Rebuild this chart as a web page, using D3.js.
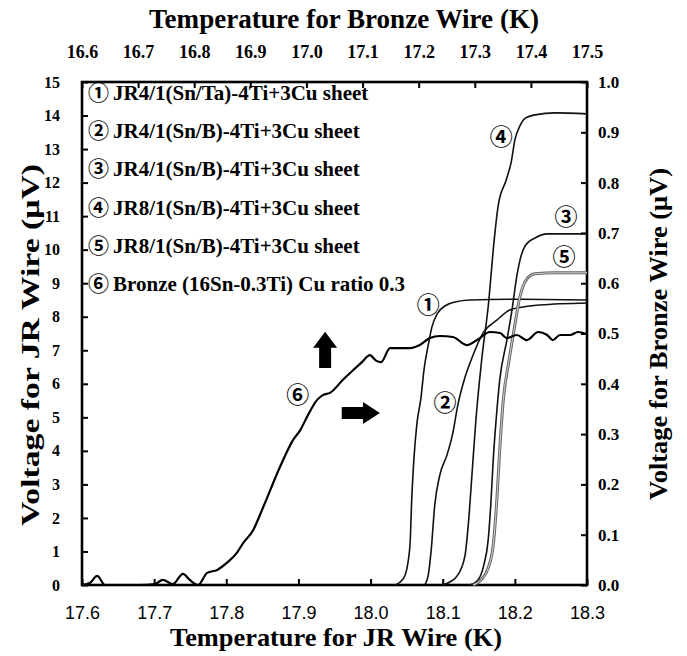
<!DOCTYPE html>
<html>
<head>
<meta charset="utf-8">
<script src="https://cdn.jsdelivr.net/npm/d3@7"></script>
<style>
  body { margin: 0; background: #fff; }
  svg { display: block; }
</style>
</head>
<body>
<div id="chart"></div>
<script>
// tick values
var bottomTicks = [17.6, 17.7, 17.8, 17.9, 18.0, 18.1, 18.2, 18.3];
var topTicks = [16.6, 16.7, 16.8, 16.9, 17.0, 17.1, 17.2, 17.3, 17.4, 17.5];
var leftTicks = [0, 1, 2, 3, 4, 5, 6, 7, 8, 9, 10, 11, 12, 13, 14, 15];
var rightTicks = [0.0, 0.1, 0.2, 0.3, 0.4, 0.5, 0.6, 0.7, 0.8, 0.9, 1.0];

var legendLabels = [
    "JR4/1(Sn/Ta)-4Ti+3Cu sheet",
    "JR4/1(Sn/B)-4Ti+3Cu sheet",
    "JR4/1(Sn/B)-4Ti+3Cu sheet",
    "JR8/1(Sn/B)-4Ti+3Cu sheet",
    "JR8/1(Sn/B)-4Ti+3Cu sheet",
    "Bronze (16Sn-0.3Ti) Cu ratio 0.3"
];
var circled = ["\u2460", "\u2461", "\u2462", "\u2463", "\u2464", "\u2465"];

// JR wire curves: [temperature (K), voltage (uV)]
var curve1 = [[18.034, 0], [18.041, 0.09], [18.048, 0.30], [18.052, 0.69], [18.055, 1.34],
    [18.057, 2.53], [18.060, 3.73], [18.064, 4.77], [18.070, 5.61], [18.074, 6.41],
    [18.080, 7.16], [18.085, 7.69], [18.093, 8.11], [18.103, 8.32], [18.117, 8.44],
    [18.138, 8.50], [18.200, 8.52], [18.300, 8.50]];
var curve2 = [[18.075, 0], [18.080, 0.30], [18.084, 1.04], [18.089, 2.39], [18.096, 3.28],
    [18.106, 3.88], [18.114, 4.53], [18.121, 5.37], [18.131, 6.20], [18.141, 6.80],
    [18.156, 7.52], [18.175, 7.90], [18.193, 8.20], [18.211, 8.29], [18.235, 8.35],
    [18.300, 8.41]];
var curve3 = [[18.138, 0], [18.149, 0.15], [18.157, 0.60], [18.163, 1.34], [18.167, 2.53],
    [18.170, 3.73], [18.174, 4.92], [18.179, 6.11], [18.189, 7.31], [18.196, 8.20],
    [18.203, 9.25], [18.209, 9.84], [18.215, 10.14], [18.228, 10.35], [18.245, 10.47],
    [18.300, 10.47]];
var curve4 = [[18.099, 0], [18.110, 0.09], [18.121, 0.30], [18.131, 0.89], [18.136, 1.94],
    [18.141, 3.43], [18.146, 4.92], [18.154, 6.71], [18.164, 8.50], [18.170, 9.99],
    [18.177, 11.33], [18.188, 12.08], [18.195, 12.62], [18.200, 13.27], [18.207, 13.69],
    [18.215, 13.93], [18.228, 14.02], [18.256, 14.08], [18.300, 14.05]];
var curve5 = [[18.142, 0], [18.153, 0.15], [18.163, 0.51], [18.170, 1.19], [18.175, 2.53],
    [18.179, 4.03], [18.184, 5.52], [18.192, 6.71], [18.200, 7.75], [18.206, 8.50],
    [18.211, 8.89], [18.218, 9.16], [18.228, 9.28], [18.256, 9.31], [18.300, 9.31]];

// Bronze wire curve: [temperature (K, top axis), voltage (uV, right axis)]
var curve6 = [[16.600, 0], [16.614, 0.004], [16.627, 0.018], [16.641, 0], [16.703, 0],
    [16.730, 0.002], [16.744, 0.010], [16.762, 0.002], [16.780, 0.022], [16.792, 0.010],
    [16.807, 0], [16.823, 0.024], [16.841, 0.030], [16.858, 0.044], [16.876, 0.064],
    [16.887, 0.083], [16.905, 0.109], [16.923, 0.155], [16.953, 0.235], [16.976, 0.288],
    [16.989, 0.308], [17.001, 0.334], [17.019, 0.368], [17.030, 0.378], [17.042, 0.382],
    [17.065, 0.408], [17.083, 0.427], [17.099, 0.443], [17.113, 0.457], [17.124, 0.446],
    [17.133, 0.443], [17.149, 0.471], [17.167, 0.471], [17.185, 0.471], [17.202, 0.477],
    [17.220, 0.491], [17.238, 0.495], [17.261, 0.493], [17.286, 0.477], [17.304, 0.487],
    [17.327, 0.503], [17.345, 0.501], [17.357, 0.491], [17.375, 0.497], [17.393, 0.487],
    [17.413, 0.503], [17.429, 0.497], [17.439, 0.487], [17.452, 0.497], [17.470, 0.497],
    [17.484, 0.503], [17.500, 0.499]];

var width = 687, height = 656;
var margin = { top: 82, left: 82, right: 100, bottom: 71 };
var plotW = width - margin.left - margin.right,
    plotH = height - margin.top - margin.bottom;

var serif = "'Liberation Serif', 'Times New Roman', serif";
var sans = "'Liberation Sans', Arial, sans-serif";
var circleFont = "'Noto Sans CJK JP', 'DejaVu Sans', sans-serif";

var svg = d3.select("#chart")
    .append("svg")
    .attr("width", width)
    .attr("height", height)
    .style("background", "#fff");

var g = svg.append("g")
    .attr("transform", "translate(" + margin.left + "," + margin.top + ")");

var xBot = d3.scaleLinear().domain([17.6, 18.3]).range([0, plotW]);
var xTop = d3.scaleLinear().domain([16.6, 17.5]).range([0, plotW]);
var yLeft = d3.scaleLinear().domain([0, 15]).range([plotH, 0]);
var yRight = d3.scaleLinear().domain([0, 1]).range([plotH, 0]);

// axes with inward ticks
var fmt1 = d3.format(".1f");

var axB = g.append("g")
    .attr("transform", "translate(0," + plotH + ")")
    .call(d3.axisBottom(xBot).tickValues(bottomTicks).tickFormat(fmt1).tickSizeInner(-6).tickSizeOuter(0));
axB.selectAll("text").attr("y", 34).attr("dy", null)
    .style("font-family", sans).style("font-size", "18px");

var axT = g.append("g")
    .call(d3.axisTop(xTop).tickValues(topTicks).tickFormat(fmt1).tickSizeInner(-6).tickSizeOuter(0));
axT.selectAll("text").attr("y", -24).attr("dy", null)
    .style("font-family", serif).style("font-weight", "bold").style("font-size", "18px");

var axL = g.append("g")
    .call(d3.axisLeft(yLeft).tickValues(leftTicks).tickSizeInner(-6).tickSizeOuter(0));
axL.selectAll("text").attr("x", -22)
    .style("font-family", serif).style("font-weight", "bold").style("font-size", "16px");

var axR = g.append("g")
    .attr("transform", "translate(" + plotW + ",0)")
    .call(d3.axisRight(yRight).tickValues(rightTicks).tickFormat(fmt1).tickSizeInner(-6).tickSizeOuter(0));
axR.selectAll("text").attr("x", 11)
    .style("font-family", serif).style("font-weight", "bold").style("font-size", "17px");

g.selectAll(".domain").remove();
g.selectAll(".tick line").attr("stroke", "#000").attr("stroke-width", 2);
g.selectAll(".tick text").attr("fill", "#000");

// frame
g.append("rect")
    .attr("width", plotW)
    .attr("height", plotH)
    .attr("fill", "none")
    .attr("stroke", "#000")
    .attr("stroke-width", 2.6);

// curves
var lineBot = d3.line()
    .x(function (d) { return xBot(d[0]); })
    .y(function (d) { return yLeft(d[1]); })
    .curve(d3.curveMonotoneX);
var lineTop = d3.line()
    .x(function (d) { return xTop(d[0]); })
    .y(function (d) { return yRight(d[1]); })
    .curve(d3.curveMonotoneX);

var jrCurves = [curve1, curve2, curve3, curve4];
g.selectAll(".jr")
    .data(jrCurves)
    .join("path")
    .attr("class", "jr")
    .attr("d", lineBot)
    .attr("fill", "none")
    .attr("stroke", "#111")
    .attr("stroke-width", 1.6);

// curve 5 drawn as a grey double line
g.append("path").attr("d", lineBot(curve5))
    .attr("fill", "none").attr("stroke", "#666").attr("stroke-width", 3);
g.append("path").attr("d", lineBot(curve5))
    .attr("fill", "none").attr("stroke", "#ddd").attr("stroke-width", 0.9);

g.append("path").attr("d", lineTop(curve6))
    .attr("fill", "none").attr("stroke", "#000").attr("stroke-width", 2.2);

// curve labels
var curveLabels = [
    { i: 0, x: 18.080, y: 8.35 },
    { i: 1, x: 18.103, y: 5.43 },
    { i: 2, x: 18.271, y: 10.98 },
    { i: 3, x: 18.181, y: 13.36 },
    { i: 4, x: 18.268, y: 9.79 },
    { i: 5, x: 17.899, y: 5.67 }
];
g.selectAll(".clab")
    .data(curveLabels)
    .join("text")
    .attr("class", "clab")
    .attr("x", function (d) { return xBot(d.x); })
    .attr("y", function (d) { return yLeft(d.y); })
    .attr("dy", "0.36em")
    .attr("text-anchor", "middle")
    .style("font-family", circleFont)
    .style("font-weight", "bold")
    .style("font-size", "23px")
    .text(function (d) { return circled[d.i]; });

// arrows pointing to the bronze axes
var ux = xBot(17.937), uy0 = yLeft(6.47), uy1 = yLeft(7.55);
g.append("path")
    .attr("d", "M" + (ux - 6) + "," + uy0 + "V" + (uy1 + 16) + "H" + (ux - 12) +
        "L" + ux + "," + uy1 + "L" + (ux + 12) + "," + (uy1 + 16) + "H" + (ux + 6) + "V" + uy0 + "Z")
    .attr("fill", "#000");
var ry = yLeft(5.13), rx0 = xBot(17.960), rx1 = xBot(18.013);
g.append("path")
    .attr("d", "M" + rx0 + "," + (ry - 6) + "H" + (rx1 - 17) + "V" + (ry - 11) +
        "L" + rx1 + "," + ry + "L" + (rx1 - 17) + "," + (ry + 11) + "V" + (ry + 6) + "H" + rx0 + "Z")
    .attr("fill", "#000");

// legend text
var leg = g.selectAll(".leg")
    .data(legendLabels)
    .join("text")
    .attr("class", "leg")
    .attr("x", 6)
    .attr("y", function (d, i) { return 18 + i * 38.2; });
leg.append("tspan")
    .style("font-family", circleFont)
    .style("font-weight", "bold")
    .style("font-size", "21px")
    .text(function (d, i) { return circled[i]; });
leg.append("tspan")
    .attr("dx", 4)
    .style("font-family", serif)
    .style("font-weight", "bold")
    .style("font-size", "21px")
    .text(function (d) { return d; });

// axis titles
svg.append("text")
    .attr("x", 344).attr("y", 28)
    .attr("text-anchor", "middle")
    .attr("textLength", 390).attr("lengthAdjust", "spacingAndGlyphs")
    .style("font-family", serif).style("font-weight", "bold").style("font-size", "27px")
    .text("Temperature for Bronze Wire (K)");

svg.append("text")
    .attr("x", 336).attr("y", 646)
    .attr("text-anchor", "middle")
    .attr("textLength", 332).attr("lengthAdjust", "spacingAndGlyphs")
    .style("font-family", serif).style("font-weight", "bold").style("font-size", "25px")
    .text("Temperature for JR Wire (K)");

svg.append("text")
    .attr("transform", "translate(39,345) rotate(-90)")
    .attr("text-anchor", "middle")
    .attr("textLength", 362).attr("lengthAdjust", "spacingAndGlyphs")
    .style("font-family", serif).style("font-weight", "bold").style("font-size", "25px")
    .text("Voltage for JR Wire (\u03bcV)");

svg.append("text")
    .attr("transform", "translate(667,334) rotate(-90)")
    .attr("text-anchor", "middle")
    .attr("textLength", 332).attr("lengthAdjust", "spacingAndGlyphs")
    .style("font-family", serif).style("font-weight", "bold").style("font-size", "26px")
    .text("Voltage for Bronze Wire (\u03bcV)");
</script>
</body>
</html>
